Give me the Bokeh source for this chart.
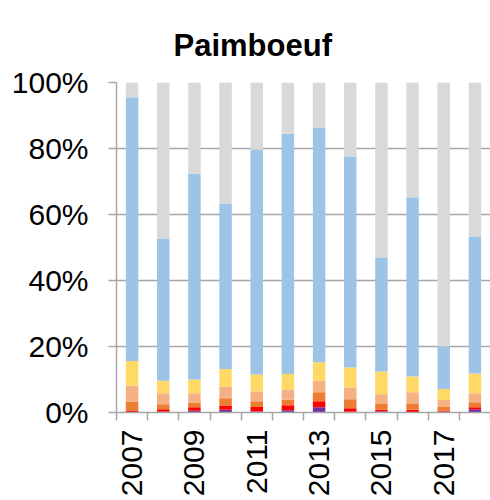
import math
from bokeh.plotting import figure
from bokeh.models import ColumnDataSource, Range1d, FixedTicker, PrintfTickFormatter
from bokeh.embed import file_html
from bokeh.resources import INLINE

years = [2007, 2008, 2009, 2010, 2011, 2012, 2013, 2014, 2015, 2016, 2017, 2018]
purple = [0.0, 0.2, 0.5, 0.8, 0.3, 0.7, 1.6, 0.2, 0.4, 0.0, 0.2, 1.0]
red = [0.6, 0.8, 1.1, 1.3, 1.4, 1.5, 1.8, 1.1, 0.4, 0.8, 0.3, 0.6]
orange = [2.7, 1.5, 1.4, 2.2, 1.7, 1.7, 2.7, 2.7, 1.8, 1.8, 1.2, 1.5]
salmon = [4.8, 3.3, 2.8, 3.5, 3.0, 3.1, 3.5, 3.6, 2.9, 3.5, 2.1, 2.7]
yellow = [7.5, 3.8, 4.2, 5.4, 5.1, 4.7, 5.6, 6.0, 6.9, 4.8, 3.3, 6.0]
blue = [79.9, 43.1, 62.4, 50.1, 68.2, 72.8, 71.2, 64.0, 34.6, 54.3, 12.9, 41.5]
grey = [4.5, 47.3, 27.6, 36.7, 20.3, 15.5, 13.6, 22.4, 53.0, 34.8, 80.0, 46.7]
year_labels = [2007, 2009, 2011, 2013, 2015, 2017]
y_ticks = [0, 20, 40, 60, 80, 100]

series = ["purple", "red", "orange", "salmon", "yellow", "blue", "grey"]
colors = ["#7030A0", "#FF0000", "#ED7D31", "#F4B183", "#FFD966", "#9DC3E6", "#D9D9D9"]

source = ColumnDataSource(dict(x=years, purple=purple, red=red, orange=orange,
                               salmon=salmon, yellow=yellow, blue=blue, grey=grey))

p = figure(width=490, height=500, output_backend="svg", toolbar_location=None,
           x_range=Range1d(years[0] - 0.5, years[-1] + 0.5), y_range=Range1d(0, 100),
           min_border_left=116, min_border_right=0, min_border_top=82, min_border_bottom=88,
           title="Paimboeuf")
p.outline_line_color = None

p.vbar_stack(series, x="x", width=0.4, color=colors, source=source, line_width=0)

p.title.text_font = "Liberation Sans"
p.title.text_font_size = "31px"
p.title.text_font_style = "bold"
p.title.text_color = "#000000"
p.title.align = "left"
p.title.offset = 57
p.title.vertical_align = "top"
p.title.standoff = 35

grid_col = "#A6A6A6"
p.xgrid.visible = False
p.ygrid.ticker = FixedTicker(ticks=y_ticks)
p.ygrid.grid_line_color = grid_col
p.ygrid.grid_line_width = 1.5

p.yaxis.ticker = FixedTicker(ticks=y_ticks)
p.yaxis.formatter = PrintfTickFormatter(format="%d%%")
p.yaxis.axis_line_color = grid_col
p.yaxis.axis_line_width = 1.5
p.yaxis.major_tick_line_color = grid_col
p.yaxis.major_tick_line_width = 1.5
p.yaxis.major_tick_out = 8
p.yaxis.major_tick_in = 0
p.yaxis.minor_tick_line_color = None
p.yaxis.major_label_standoff = 20
p.yaxis.major_label_text_font = "Liberation Sans"
p.yaxis.major_label_text_font_size = "30px"
p.yaxis.major_label_text_color = "#000000"

p.xaxis.ticker = FixedTicker(ticks=year_labels, minor_ticks=[y - 0.5 for y in years] + [years[-1] + 0.5])
p.xaxis.axis_line_color = grid_col
p.xaxis.axis_line_width = 1.5
p.xaxis.major_tick_line_color = None
p.xaxis.minor_tick_line_color = grid_col
p.xaxis.minor_tick_line_width = 1.5
p.xaxis.minor_tick_out = 8
p.xaxis.minor_tick_in = 0
p.xaxis.major_label_orientation = math.pi / 2
p.xaxis.major_label_standoff = 9
p.xaxis.major_label_text_font = "Liberation Sans"
p.xaxis.major_label_text_font_size = "30px"
p.xaxis.major_label_text_color = "#000000"

open("out.html", "w").write(file_html(p, INLINE))
